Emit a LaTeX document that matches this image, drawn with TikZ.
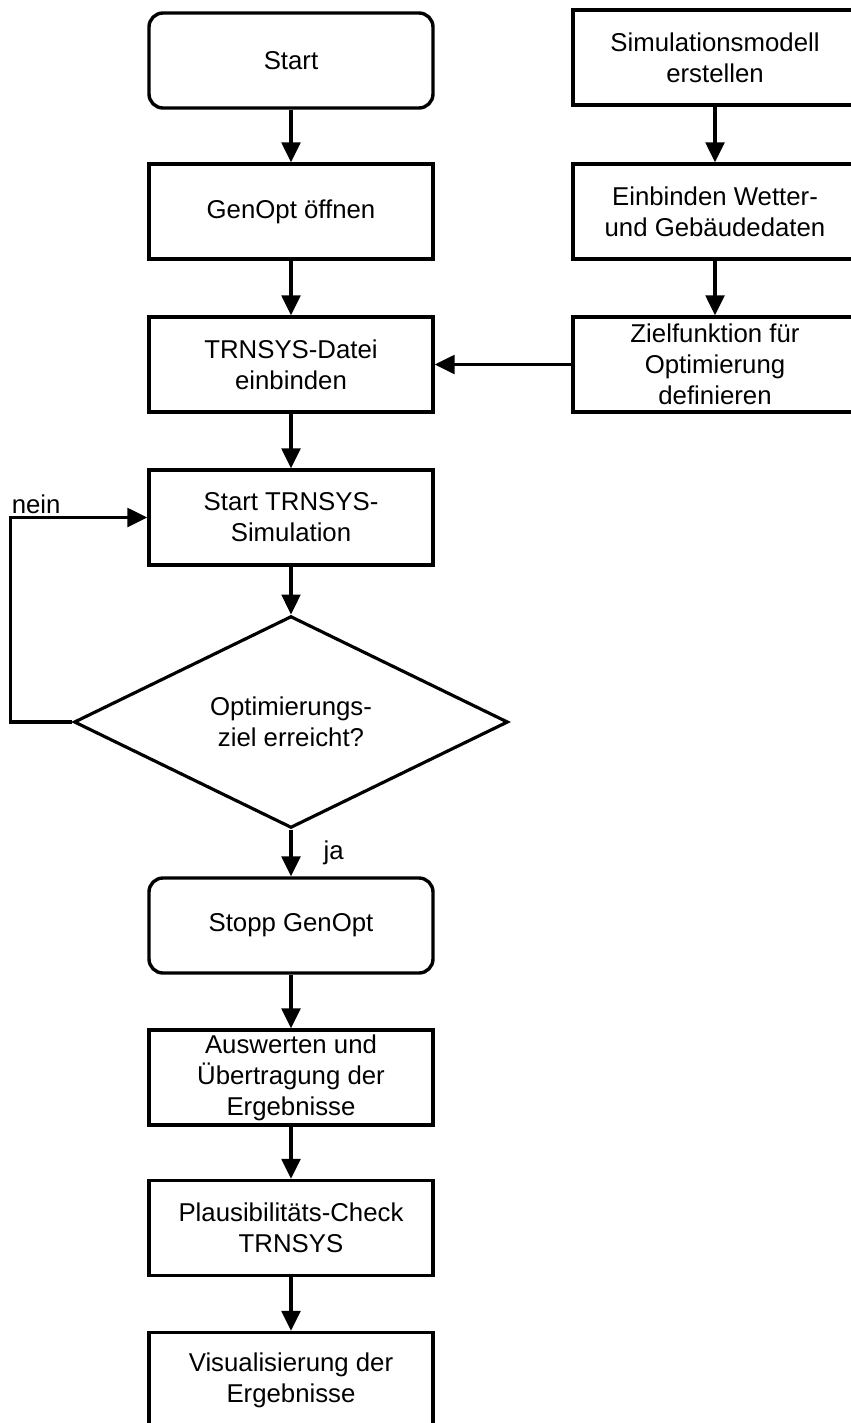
\documentclass[tikz,border=0pt]{standalone}
\usepackage{fontspec}
\setmainfont{Liberation Sans}
\usetikzlibrary{shapes.geometric,arrows.meta}

\begin{document}
\begin{tikzpicture}[
    procbox/.style={rectangle, draw=black, line width=2.9pt, fill=white,
                    minimum width=8.52cm, minimum height=2.85cm,
                    inner xsep=4pt, inner ysep=0pt, align=center,
                    font=\fontsize{22}{26.5}\selectfont},
    termbox/.style={procbox, rounded corners=0.42cm},
    decbox/.style={diamond, draw=black, line width=2.7pt, fill=white,
                   minimum width=13.02cm, minimum height=5.94cm,
                   inner sep=0pt, align=center,
                   font=\fontsize{22}{26.5}\selectfont},
    flow/.style={line width=2.6pt, -{Triangle[length=17pt,width=16pt]}},
    lbl/.style={font=\fontsize{22}{26.5}\selectfont, inner sep=1pt},
]

\def\lx{8.73}  % left column
\def\rx{21.45} % right column

% page frame
\useasboundingbox (0,0) rectangle (25.53,-42.69);

% ================================================================
% LEFT COLUMN
% ================================================================
\node[termbox] (start)   at (\lx,-1.815)  {Start};
\node[procbox] (genopt)  at (\lx,-6.345)  {GenOpt öffnen};
\node[procbox] (datei)   at (\lx,-10.935) {TRNSYS-Datei\\einbinden};
\node[procbox] (simrun)  at (\lx,-15.525) {Start TRNSYS-\\Simulation};
\node[decbox]  (ziel)    at (\lx,-21.66)  {Optimierungs-\\ziel erreicht?};
\node[termbox] (stopp)   at (\lx,-27.765) {Stopp GenOpt};
\node[procbox] (auswert) at (\lx,-32.325) {Auswerten und\\Übertragung der\\Ergebnisse};
\node[procbox] (check)   at (\lx,-36.84)  {Plausibilitäts-Check\\TRNSYS};
\node[procbox] (visual)  at (\lx,-41.40)  {Visualisierung der\\Ergebnisse};

% ================================================================
% RIGHT COLUMN
% ================================================================
\node[procbox] (modell)  at (\rx,-1.725)  {Simulationsmodell\\erstellen};
\node[procbox] (daten)   at (\rx,-6.345)  {Einbinden Wetter-\\und Gebäudedaten};
\node[procbox] (zielfkt) at (\rx,-10.935) {Zielfunktion für\\Optimierung\\definieren};

% ================================================================
% CONNECTORS
% ================================================================
\draw[flow] (start) -- (genopt);
\draw[flow] (genopt) -- (datei);
\draw[flow] (datei) -- (simrun);
\draw[flow] (simrun) -- (ziel);
\draw[flow] (ziel) -- node[lbl, anchor=west, xshift=0.9cm] {ja} (stopp);
\draw[flow] (stopp) -- (auswert);
\draw[flow] (auswert) -- (check);
\draw[flow] (check) -- (visual);

\draw[flow] (modell) -- (daten);
\draw[flow] (daten) -- (zielfkt);
\draw[flow] (zielfkt) -- (datei);

% loop back: nein
\coordinate (back) at ([xshift=-1.86cm]ziel.west);
\draw[flow] (ziel.west) -- (back) |- (simrun.west);
\node[lbl, anchor=south west, yshift=2pt] at (back |- simrun.west) {nein};

\end{tikzpicture}
\end{document}
